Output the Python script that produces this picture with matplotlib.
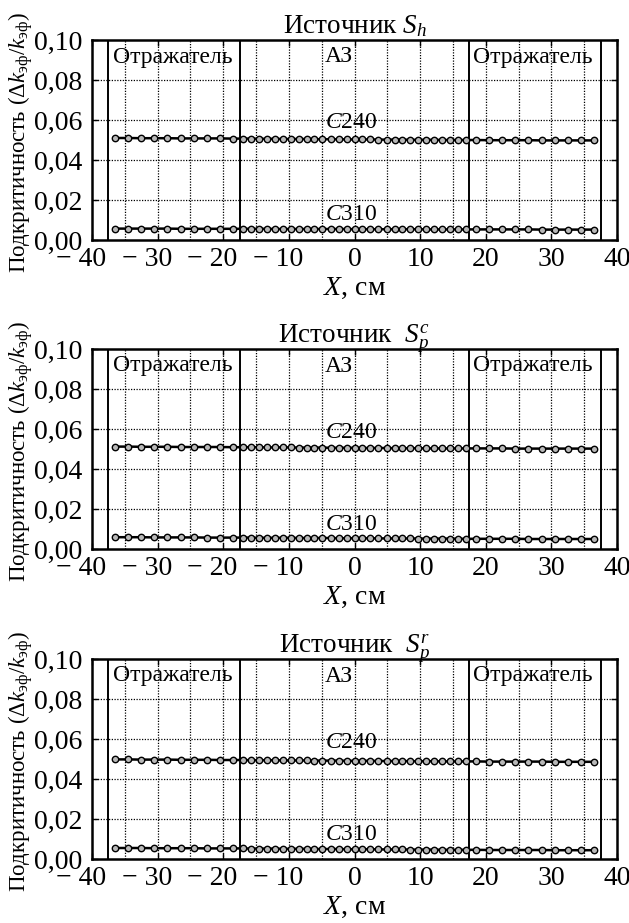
import matplotlib
matplotlib.use("Agg")
import matplotlib.pyplot as plt
from matplotlib.transforms import ScaledTranslation

plt.rcParams['font.family'] = ['Liberation Serif', 'DejaVu Serif']
plt.rcParams['mathtext.fontset'] = 'custom'
plt.rcParams['mathtext.rm'] = 'Liberation Serif'
plt.rcParams['mathtext.it'] = 'Liberation Serif:italic'
plt.rcParams['mathtext.bf'] = 'Liberation Serif:bold'

# ---------------- data ----------------
x_pos = [-36.5, -34.5, -32.5, -30.5, -28.5, -26.5, -24.5, -22.5, -20.5, -18.5,
         -17.0, -15.8, -14.6, -13.4, -12.1, -10.9, -9.7, -8.5, -7.3, -6.1,
         -4.9, -3.6, -2.4, -1.2, 0.0, 1.2, 2.4, 3.6, 4.9, 6.1,
         7.3, 8.5, 9.7, 10.9, 12.1, 13.4, 14.6, 15.8, 17.0,
         18.5, 20.5, 22.5, 24.5, 26.5, 28.5, 30.5, 32.5, 34.5, 36.5]

sh_c240 = [0.0510, 0.0510, 0.0509, 0.0509, 0.0509, 0.0508, 0.0508, 0.0508, 0.0508, 0.0507,
           0.0507, 0.0507, 0.0506, 0.0506, 0.0506, 0.0505, 0.0505, 0.0505, 0.0505, 0.0504,
           0.0504, 0.0504, 0.0504, 0.0503, 0.0503, 0.0503, 0.0503, 0.0502, 0.0502, 0.0502,
           0.0502, 0.0501, 0.0501, 0.0501, 0.0501, 0.0500, 0.0500, 0.0500, 0.0500,
           0.0500, 0.0499, 0.0499, 0.0499, 0.0499, 0.0498, 0.0498, 0.0498, 0.0498, 0.0498]
sh_c310 = [0.0057, 0.0057, 0.0057, 0.0057, 0.0057, 0.0056, 0.0056, 0.0056, 0.0056, 0.0056,
           0.0056, 0.0056, 0.0056, 0.0056, 0.0055, 0.0055, 0.0055, 0.0055, 0.0055, 0.0055,
           0.0055, 0.0055, 0.0055, 0.0055, 0.0054, 0.0054, 0.0054, 0.0054, 0.0054, 0.0054,
           0.0054, 0.0054, 0.0054, 0.0053, 0.0053, 0.0053, 0.0053, 0.0053, 0.0053,
           0.0053, 0.0053, 0.0053, 0.0053, 0.0053, 0.0052, 0.0052, 0.0052, 0.0052, 0.0052]

spc_c240 = [0.0512, 0.0512, 0.0511, 0.0511, 0.0511, 0.0510, 0.0510, 0.0510, 0.0510, 0.0509,
            0.0509, 0.0509, 0.0509, 0.0508, 0.0508, 0.0508, 0.0508, 0.0507, 0.0507, 0.0507,
            0.0507, 0.0506, 0.0506, 0.0506, 0.0506, 0.0505, 0.0505, 0.0505, 0.0505, 0.0504,
            0.0504, 0.0504, 0.0504, 0.0503, 0.0503, 0.0503, 0.0503, 0.0503, 0.0503,
            0.0503, 0.0503, 0.0503, 0.0502, 0.0502, 0.0502, 0.0502, 0.0502, 0.0502, 0.0502]
spc_c310 = [0.0059, 0.0059, 0.0059, 0.0058, 0.0058, 0.0058, 0.0058, 0.0057, 0.0057, 0.0057,
            0.0057, 0.0057, 0.0056, 0.0056, 0.0056, 0.0056, 0.0056, 0.0055, 0.0055, 0.0055,
            0.0055, 0.0055, 0.0054, 0.0054, 0.0054, 0.0054, 0.0054, 0.0053, 0.0053, 0.0053,
            0.0053, 0.0053, 0.0052, 0.0052, 0.0052, 0.0052, 0.0052, 0.0051, 0.0051,
            0.0051, 0.0051, 0.0051, 0.0051, 0.0050, 0.0050, 0.0050, 0.0050, 0.0050, 0.0050]

spr_c240 = [0.0498, 0.0498, 0.0497, 0.0497, 0.0497, 0.0496, 0.0496, 0.0496, 0.0495, 0.0495,
            0.0495, 0.0494, 0.0494, 0.0494, 0.0494, 0.0493, 0.0493, 0.0493, 0.0493, 0.0492,
            0.0492, 0.0492, 0.0492, 0.0491, 0.0491, 0.0491, 0.0491, 0.0490, 0.0490, 0.0490,
            0.0490, 0.0489, 0.0489, 0.0489, 0.0489, 0.0488, 0.0488, 0.0488, 0.0488,
            0.0488, 0.0487, 0.0487, 0.0487, 0.0487, 0.0487, 0.0486, 0.0486, 0.0486, 0.0486]
spr_c310 = [0.0055, 0.0055, 0.0055, 0.0054, 0.0054, 0.0054, 0.0054, 0.0053, 0.0053, 0.0053,
            0.0053, 0.0052, 0.0052, 0.0052, 0.0052, 0.0051, 0.0051, 0.0051, 0.0051, 0.0050,
            0.0050, 0.0050, 0.0050, 0.0049, 0.0049, 0.0049, 0.0049, 0.0048, 0.0048, 0.0048,
            0.0048, 0.0047, 0.0047, 0.0047, 0.0047, 0.0046, 0.0046, 0.0046, 0.0046,
            0.0046, 0.0045, 0.0045, 0.0045, 0.0045, 0.0045, 0.0044, 0.0044, 0.0044, 0.0044]

titles = ["Источник $S_h$", "Источник  $S_p^c$", "Источник  $S_p^r$"]
series = [(sh_c240, sh_c310), (spc_c240, spc_c310), (spr_c240, spr_c310)]
boundaries = [-37.5, -17.5, 17.5, 37.5]
x_ticks = [-40, -30, -20, -10, 0, 10, 20, 30, 40]
x_ticklabels = ["\u2212 40", "\u2212 30", "\u2212 20", "\u2212 10", "0", "10", "20", "30", "40"]
y_ticks = [0.00, 0.02, 0.04, 0.06, 0.08, 0.10]
y_ticklabels = ["0,00", "0,02", "0,04", "0,06", "0,08", "0,10"]
x_grid = [-35, -30, -25, -20, -15, -10, -5, 0, 5, 10, 15, 20, 25, 30, 35]
y_grid = [0.02, 0.04, 0.06, 0.08]

# ---------------- figure ----------------
W, H = 629, 923
fig = plt.figure(figsize=(W / 100, H / 100), dpi=100)

tops = [40, 349, 659]
ax_h = 200
left, right = 92, 617

for i, (top, title, (c240, c310)) in enumerate(zip(tops, titles, series)):
    ax = fig.add_axes([left / W, 1 - (top + ax_h) / H, (right - left) / W, ax_h / H])
    ax.set_xlim(-40, 40)
    ax.set_ylim(0, 0.10)
    for gx in x_grid:
        ax.axvline(gx, color='black', lw=0.9, ls=(0, (1, 1.2)), zorder=1)
    for gy in y_grid:
        ax.axhline(gy, color='black', lw=0.9, ls=(0, (1, 1.2)), zorder=1)
    for b in boundaries:
        ax.axvline(b, color='black', lw=1.4, zorder=2)
    for vals in (c240, c310):
        ax.plot(x_pos, vals, color='black', lw=1.8, marker='o', ms=4.6,
                mfc='#b8b8b8', mec='black', mew=1.0, zorder=3)
    ax.text(-36.8, 0.0915, "Отражатель", fontsize=17, va='center', ha='left', zorder=4)
    ax.text(-4.6, 0.0915, "АЗ", fontsize=17, va='center', ha='left', zorder=4)
    ax.text(18.0, 0.0915, "Отражатель", fontsize=17, va='center', ha='left', zorder=4)
    ax.text(-4.5, 0.0585, "$C$240", fontsize=17, va='center', ha='left', zorder=4)
    ax.text(-4.5, 0.0125, "$C$310", fontsize=17, va='center', ha='left', zorder=4)

    ax.set_xticks(x_ticks)
    ax.set_xticklabels(x_ticklabels, fontsize=20)
    ax.set_yticks(y_ticks)
    ax.set_yticklabels(y_ticklabels, fontsize=20)
    ax.tick_params(axis='both', direction='in', length=4, width=1, top=True, right=True)
    ax.tick_params(axis='x', pad=5)
    ax.tick_params(axis='y', pad=7)
    # keep digits centred on the tick, minus sign hanging to the left
    for lbl in ax.get_xticklabels():
        if lbl.get_text().startswith("\u2212"):
            lbl.set_transform(lbl.get_transform() +
                              ScaledTranslation(-11 / 100, 0, fig.dpi_scale_trans))
    for s in ax.spines.values():
        s.set_linewidth(1.8)
    ax.set_title(title, fontsize=19.5, pad=5)
    ax.set_xlabel("$X$, см", fontsize=20, labelpad=3)
    ax.set_ylabel("Подкритичность (Δ$k_{\\mathrm{эф}}$/$k_{\\mathrm{эф}}$)", fontsize=16.5)
    ax.yaxis.set_label_coords(-0.108, 0.49)

fig.savefig("out.png", dpi=100)
